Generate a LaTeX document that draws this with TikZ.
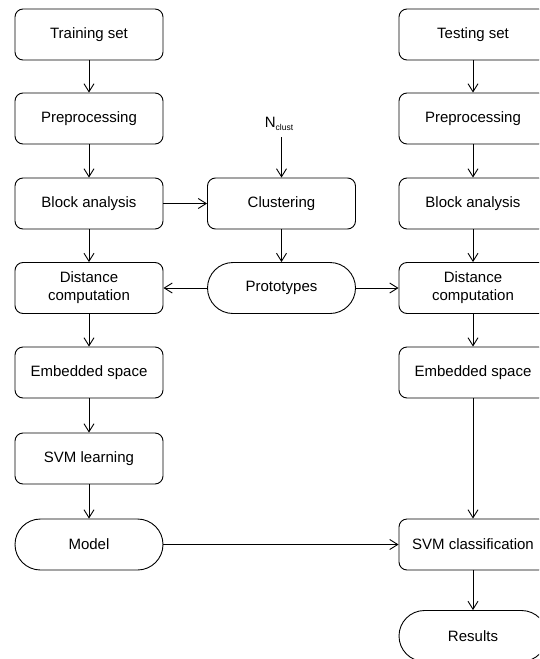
\documentclass[tikz,border=0pt]{standalone}
\usepackage{fontspec}
\setmainfont{Liberation Sans}
\usetikzlibrary{arrows.meta}
\begin{document}
\begin{tikzpicture}[x=1pt,y=-1pt,
  box/.style={draw, line width=0.9pt, rounded corners=8pt, minimum width=148pt, minimum height=51pt, inner sep=0pt, align=center, font=\fontsize{15}{18}\selectfont},
  term/.style={box, rounded corners=25.5pt},
  arr/.style={line width=0.9pt, -{Straight Barb[length=8pt,width=10pt,line width=0.9pt]}}]
\useasboundingbox (0,0) rectangle (539,659);
\clip (0,0) rectangle (539,659);
% left column
\node[box] (tr) at (89,34.5) {Training set};
\node[box] (pl) at (89,118.5) {Preprocessing};
\node[box] (bl) at (89,203.5) {Block analysis};
\node[box] (dl) at (89,288) {Distance\\computation};
\node[box] (el) at (89,372.5) {Embedded space};
\node[box] (svl) at (89,458.5) {SVM learning};
\node[term] (mo) at (89,544.5) {Model};
% centre column
\node[font=\fontsize{15}{18}\selectfont, inner sep=0pt] (nc) at (279,124) {N\raisebox{-0.35ex}{\fontsize{8.5}{10}\selectfont clust}};
\coordinate (ncb) at (281.5,137);
\node[box] (cl) at (281.5,203.5) {Clustering};
\node[term] (pr) at (281.5,288) {Prototypes};
% right column
\node[box] (ts) at (473,34.5) {Testing set};
\node[box] (pr2) at (473,118.5) {Preprocessing};
\node[box] (br) at (473,203.5) {Block analysis};
\node[box] (dr) at (473,288) {Distance\\computation};
\node[box] (er) at (473,372.5) {Embedded space};
\node[box] (sc) at (473,544.5) {SVM classification};
\node[term] (re) at (473,636) {Results};
% arrows
\draw[arr] (tr) -- (pl);
\draw[arr] (pl) -- (bl);
\draw[arr] (bl) -- (dl);
\draw[arr] (dl) -- (el);
\draw[arr] (el) -- (svl);
\draw[arr] (svl) -- (mo);
\draw[arr] (bl) -- (cl);
\draw[arr] (ncb) -- (cl);
\draw[arr] (cl) -- (pr);
\draw[arr] (pr) -- (dl);
\draw[arr] (pr) -- (dr);
\draw[arr] (ts) -- (pr2);
\draw[arr] (pr2) -- (br);
\draw[arr] (br) -- (dr);
\draw[arr] (dr) -- (er);
\draw[arr] (er) -- (sc);
\draw[arr] (mo) -- (sc);
\draw[arr] (sc) -- (re);
\end{tikzpicture}
\end{document}
